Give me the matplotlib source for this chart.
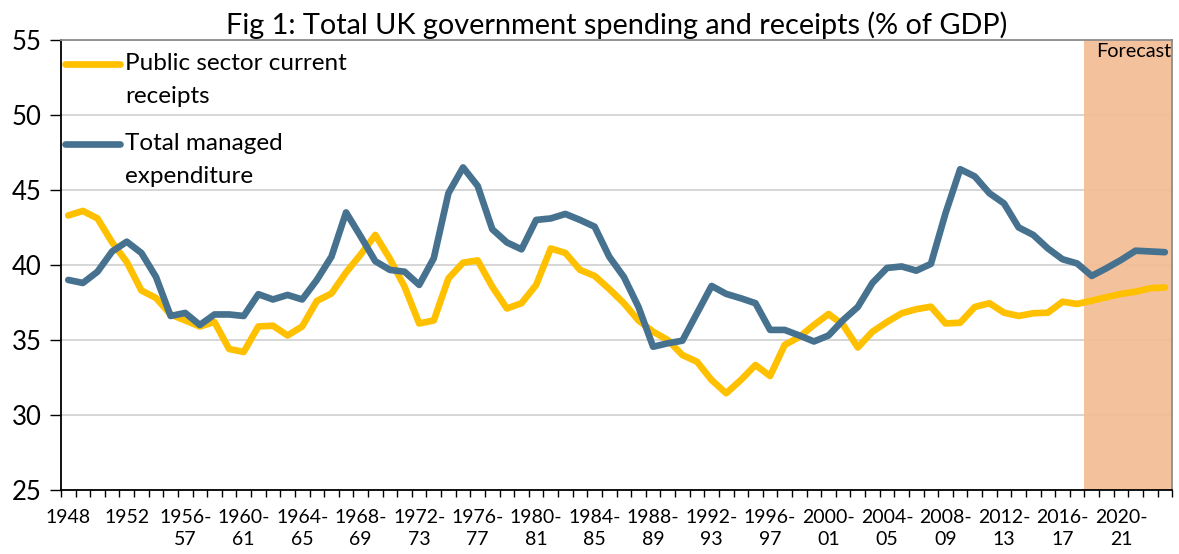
import numpy as np
import matplotlib
matplotlib.use('Agg')
import matplotlib.pyplot as plt
from matplotlib.ticker import FixedLocator
from matplotlib.legend_handler import HandlerLine2D
from matplotlib.transforms import Affine2D

plt.rcParams['font.family'] = ['Lato', 'DejaVu Sans']

# Fiscal years 1948 .. 2023-24 (one point per year)
years = list(range(1948, 2024))

receipts = [43.3, 43.6, 43.1, 41.5, 40.2, 38.3, 37.8, 36.7, 36.3, 35.9,
            36.2, 34.4, 34.2, 35.9, 35.95, 35.3, 35.9, 37.6, 38.1, 39.5,
            40.7, 42.0, 40.4, 38.55, 36.1, 36.3, 39.1, 40.15, 40.3, 38.55,
            37.1, 37.45, 38.67, 41.1, 40.8, 39.67, 39.27, 38.4, 37.45, 36.3,
            35.55, 35.0, 34.0, 33.55, 32.33, 31.45, 32.33, 33.33, 32.6, 34.67,
            35.2, 36.0, 36.73, 36.0, 34.5, 35.55, 36.2, 36.78, 37.05, 37.22,
            36.1, 36.15, 37.2, 37.45, 36.82, 36.6, 36.78, 36.82, 37.55, 37.4,
            37.62, 37.85, 38.07, 38.22, 38.45, 38.5]

tme = [39.0, 38.8, 39.55, 40.9, 41.55, 40.8, 39.2, 36.6, 36.8, 36.0,
       36.7, 36.7, 36.6, 38.05, 37.7, 38.0, 37.7, 39.0, 40.55, 43.5,
       41.9, 40.25, 39.67, 39.55, 38.67, 40.45, 44.78, 46.5, 45.27, 42.38,
       41.5, 41.04, 43.0, 43.1, 43.4, 43.0, 42.55, 40.55, 39.2, 37.2,
       34.55, 34.78, 34.95, 36.78, 38.6, 38.07, 37.78, 37.45, 35.67, 35.67,
       35.3, 34.9, 35.3, 36.33, 37.2, 38.8, 39.8, 39.9, 39.62, 40.07,
       43.45, 46.38, 45.9, 44.78, 44.1, 42.5, 42.0, 41.1, 40.38, 40.1,
       39.27, 39.78, 40.33, 40.95, 40.9, 40.85]

forecast_start = 2018  # first forecast year (2018-19)

tick_labels = ['1948', '1952'] + [f'{y}-\n{str(y + 1)[2:]}' for y in range(1956, 2024, 4)]

x = np.arange(len(years))


class TopLineHandler(HandlerLine2D):
    # put the legend line next to the first line of a two-line label
    def create_artists(self, legend, orig_handle, xdescent, ydescent,
                       width, height, fontsize, trans):
        trans = Affine2D().translate(0, 11.5) + trans
        return super().create_artists(legend, orig_handle, xdescent, ydescent,
                                      width, height, fontsize, trans)


fig = plt.figure(figsize=(11.79, 5.54), dpi=100)
ax = fig.add_axes([0.0517, 0.1155, 0.9425, 0.8125])

# forecast shading
fs = years.index(forecast_start)
ax.axvspan(fs - 0.5, len(years) - 0.5, color='#F4BC95', alpha=0.92, zorder=1, lw=0)
ax.text(fs + 0.3, 54.8, 'Forecast', ha='left', va='top', fontsize=14.3, zorder=3)

l1, = ax.plot(x, receipts, color='#FFC000', lw=4.8, solid_joinstyle='round',
              solid_capstyle='round', label='Public sector current\nreceipts', zorder=4)
l2, = ax.plot(x, tme, color='#46728F', lw=4.8, solid_joinstyle='round',
              solid_capstyle='round', label='Total managed\nexpenditure', zorder=4)

ax.set_xlim(-0.5, len(years) - 0.5)
ax.set_ylim(25, 55)
ax.set_yticks(range(25, 56, 5))
ax.yaxis.grid(True, color='#D0D0D0', lw=1.2, zorder=0.5)
ax.set_axisbelow(True)

ax.set_xticks(x[::4])
ax.set_xticklabels(tick_labels, linespacing=1.35)
ax.xaxis.set_minor_locator(FixedLocator(np.arange(-0.5, len(years), 1)))
ax.tick_params(axis='x', which='major', length=0, labelsize=14, pad=14)
ax.tick_params(axis='x', which='minor', length=5, width=1, direction='out')
ax.tick_params(axis='y', length=8, width=1, labelsize=18.5, pad=6)

for s in ['left', 'bottom']:
    ax.spines[s].set_color('black')
    ax.spines[s].set_linewidth(1.3)
for s in ['top', 'right']:
    ax.spines[s].set_color('#8C8C8C')
    ax.spines[s].set_linewidth(1.3)

ax.set_title('Fig 1: Total UK government spending and receipts (% of GDP)',
             fontsize=20.8, pad=4)

leg = ax.legend(loc='upper left', frameon=False, fontsize=17.5, handlelength=2.25,
                handletextpad=0.2, labelspacing=1.05, borderpad=0.0,
                borderaxespad=0.0, bbox_to_anchor=(0.004, 0.97),
                handler_map={l1: TopLineHandler(), l2: TopLineHandler()})
for t in leg.get_texts():
    t.set_linespacing(1.7)

fig.savefig('out.png', dpi=100)
